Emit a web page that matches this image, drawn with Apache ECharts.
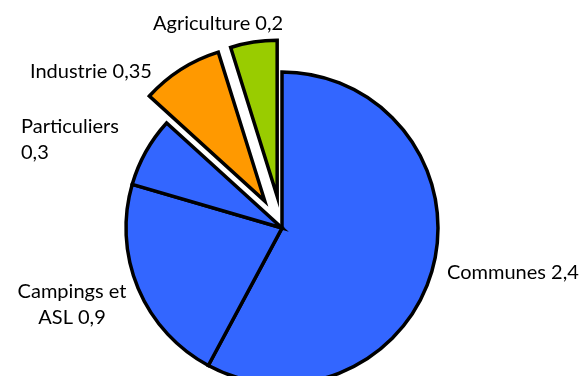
<!DOCTYPE html>
<html>
<head>
<meta charset="utf-8">
<script src="https://cdn.jsdelivr.net/npm/echarts@6/dist/echarts.min.js"></script>
<style>
  html, body { margin: 0; padding: 0; background: #fff; }
  #chart { width: 584px; height: 376px; }
</style>
</head>
<body>
<div id="chart"></div>
<script>
// Volumes by user category
const categories = ['Communes', 'Campings et ASL', 'Particuliers', 'Industrie', 'Agriculture'];
const values = [2.4, 0.9, 0.3, 0.35, 0.2];
// Label text (with line breaks) shown next to each slice
const labelNames = ['Communes', 'Campings et\nASL', 'Particuliers\n', 'Industrie', 'Agriculture'];
const detached = [false, false, false, true, true];
const colors = ['#3366FF', '#3366FF', '#3366FF', '#FF9900', '#99CC00'];

// Label anchor points around the pie
const labelSpots = [
  { x: 447, y: 273, align: 'left' },
  { x: 72, y: 305, align: 'center' },
  { x: 21, y: 140, align: 'left' },
  { x: 30, y: 72, align: 'left' },
  { x: 153, y: 24, align: 'left' }
];

const fmt = v => String(v).replace('.', ',');
const CENTER = [282, 228];
const RADIUS = 156;

const chart = echarts.init(document.getElementById('chart'), null, { renderer: 'canvas' });
chart.setOption({
  animation: false,
  series: [
    {
      // slices, two of them pulled out
      type: 'pie',
      center: CENTER,
      radius: [0, RADIUS],
      startAngle: 90,
      clockwise: true,
      selectedMode: 'multiple',
      selectedOffset: 32,
      silent: true,
      itemStyle: { borderColor: '#000', borderWidth: 3.5, borderJoin: 'miter' },
      label: { show: false },
      labelLine: { show: false },
      emphasis: { disabled: true },
      data: categories.map((c, i) => ({
        name: c,
        value: values[i],
        selected: detached[i],
        itemStyle: { color: colors[i] },
        select: { itemStyle: { color: colors[i], borderColor: '#000', borderWidth: 3.5 } }
      }))
    },
    {
      // category labels with values
      type: 'pie',
      center: CENTER,
      radius: [0, RADIUS],
      startAngle: 90,
      clockwise: true,
      silent: true,
      z: 3,
      avoidLabelOverlap: false,
      itemStyle: { color: 'rgba(0,0,0,0)', borderWidth: 0 },
      label: {
        show: true,
        position: 'outside',
        fontFamily: 'Lato',
        fontSize: 20,
        lineHeight: 26,
        color: '#000',
        formatter: p => labelNames[p.dataIndex] + (labelNames[p.dataIndex].endsWith('\n') ? '' : ' ') + fmt(p.value)
      },
      labelLine: { show: false },
      labelLayout: p => {
        const s = labelSpots[p.dataIndex];
        return { x: s.x, y: s.y, align: s.align, verticalAlign: 'middle' };
      },
      emphasis: { disabled: true },
      data: categories.map((c, i) => ({ name: c, value: values[i] }))
    }
  ]
});
</script>
</body>
</html>
